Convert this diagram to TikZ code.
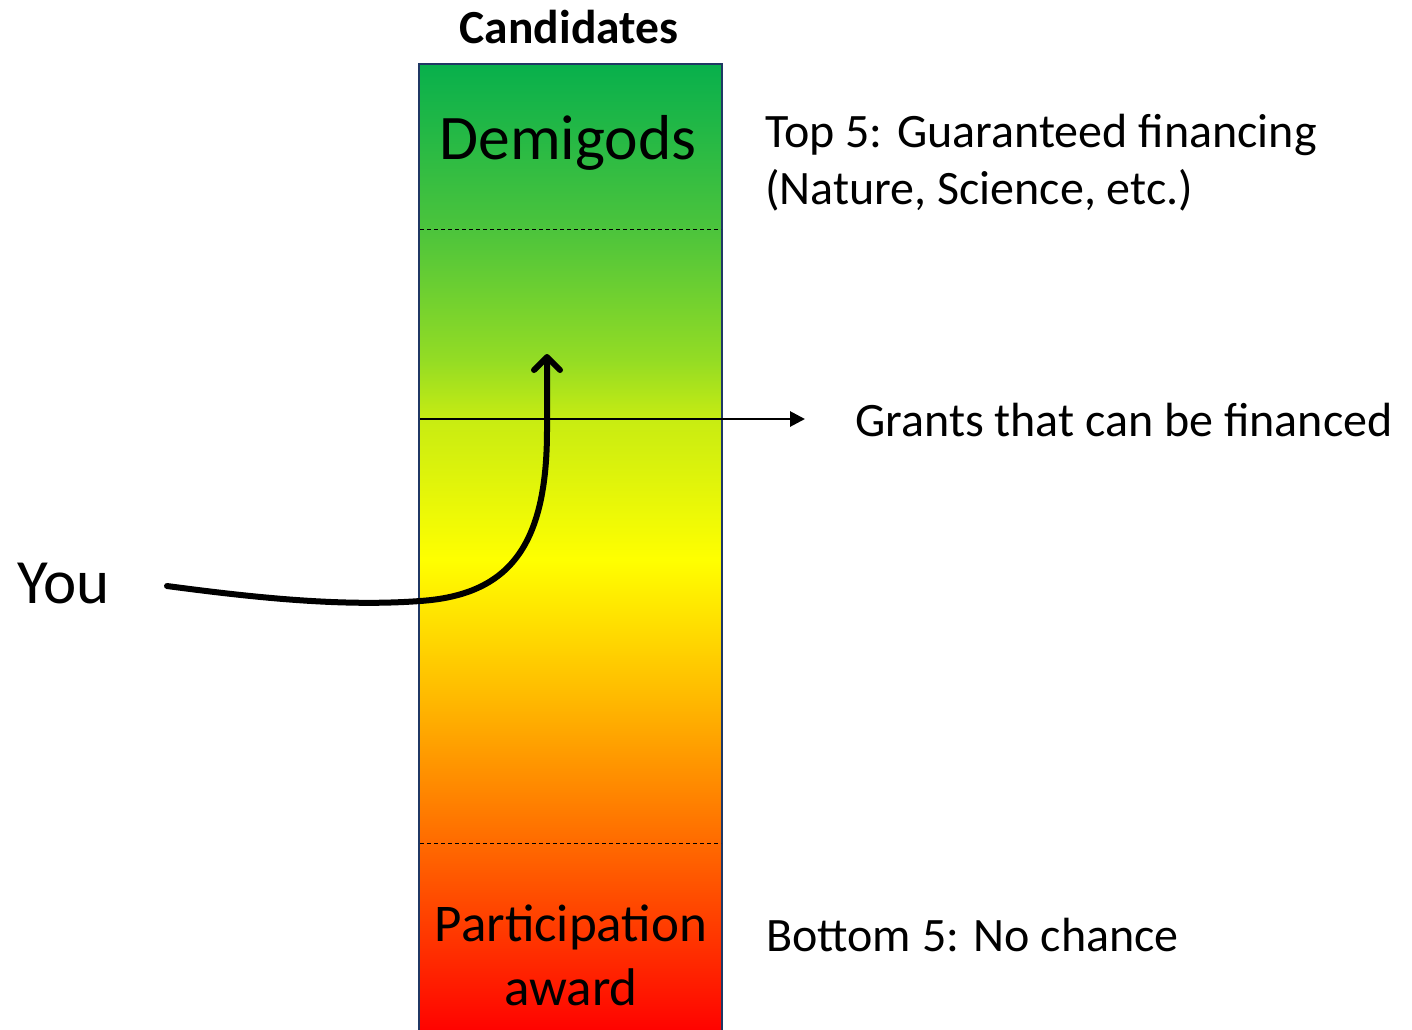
\documentclass[tikz,border=0pt]{standalone}
\usepackage{fontspec}
\setmainfont{Carlito}
\usetikzlibrary{arrows.meta}
\definecolor{c0}{HTML}{08B04C}
\definecolor{c1}{HTML}{4CC43C}
\definecolor{c2}{HTML}{94DC24}
\definecolor{c3}{HTML}{C8EC12}
\definecolor{c4}{HTML}{FFFF00}
\definecolor{c5}{HTML}{FFB800}
\definecolor{c6}{HTML}{FF6A00}
\definecolor{c7}{HTML}{FF0000}
\definecolor{navy}{HTML}{203864}
\tikzset{
  sep/.style={line width=1pt, dash pattern=on 4pt off 3pt},
  lbl/.style={inner sep=0pt, font=\fontsize{48}{57}\selectfont, anchor=west},
}
\begin{document}
\begin{tikzpicture}[x=1pt,y=-1pt]
\useasboundingbox (0,0) rectangle (1412,1029);
% gradient bands
\fill[top color=c0,bottom color=c1] (419,64) rectangle (722,230.5);
\fill[top color=c1,bottom color=c2] (419,230) rectangle (722,360.5);
\fill[top color=c2,bottom color=c3] (419,360) rectangle (722,420.5);
\fill[top color=c3,bottom color=c4] (419,420) rectangle (722,560.5);
\fill[top color=c4,bottom color=c5] (419,560) rectangle (722,700.5);
\fill[top color=c5,bottom color=c6] (419,700) rectangle (722,843.5);
\fill[top color=c6,bottom color=c7] (419,843) rectangle (722,1035);
\draw[navy, line width=2.5pt] (419,1040) -- (419,64) -- (722,64) -- (722,1040);
\draw[sep] (420,229) -- (721,229);
\draw[sep] (420,843) -- (721,843);

\node[font=\bfseries\fontsize{47.5}{50}\selectfont, inner sep=0pt] (cand) at (569,27) {Candidates};
\node[font=\fontsize{63.5}{64}\selectfont, inner sep=0pt] (demi) at (568,143) {Demigods};
\node[font=\fontsize{53}{64}\selectfont, inner sep=0pt, align=center] (part) at (571,955) {Participation\\award};

\node[lbl, align=left] (top) at (765,163) {Top 5: Guaranteed financing\\(Nature, Science, etc.)};
\node[lbl] (grants) at (855,420) {Grants that can be financed};
\node[lbl] (bottom) at (766,935) {Bottom 5: No chance};
\node[inner sep=0pt, font=\fontsize{63}{66}\selectfont, anchor=west] (you) at (17,584) {You};

\coordinate (hs) at (420,419);
\coordinate (he) at (805,419);
\draw[line width=2.8pt, -{Triangle[length=15pt,width=15pt]}] (hs) -- (he);

\coordinate (cs) at (167,586);
\coordinate (cm) at (420,601);
\coordinate (ct) at (547,354);
\draw[line width=6pt, line cap=round, -{Straight Barb[length=13pt,width=26pt,line cap=round,line join=round]}]
  (cs) .. controls (250,597) and (340,607) .. (cm)
  .. controls (510,595) and (547,545) .. (547,430) -- (ct);
\end{tikzpicture}
\end{document}
